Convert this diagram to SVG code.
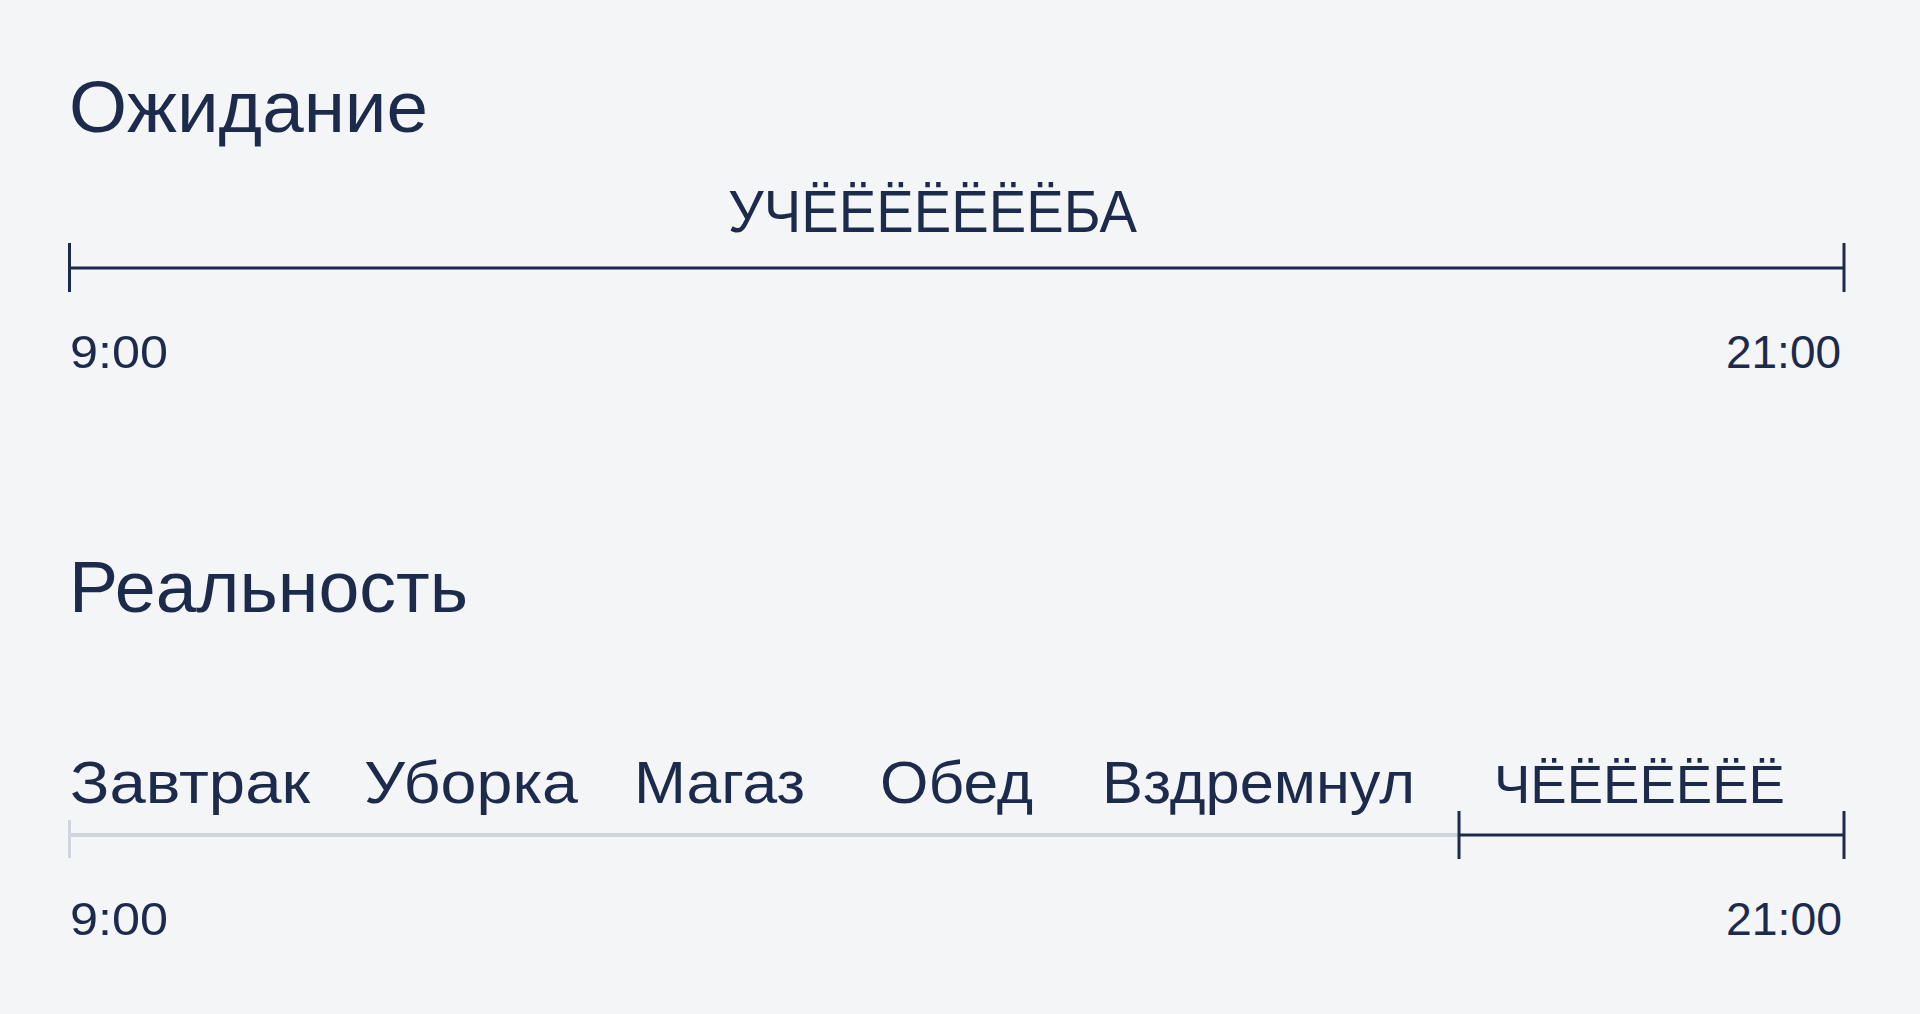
<svg xmlns="http://www.w3.org/2000/svg" width="1920" height="1014" viewBox="0 0 1920 1014">
<style>
  .t { font-family: "Liberation Sans", Arial, sans-serif; fill: #1c2a4b; }
  .title { font-size: 72px; }
  .lbl { font-size: 60px; }
  .time { font-size: 46px; }
  .dark { stroke: #1c2a4b; stroke-width: 3; fill: none; }
  .gray { stroke: #cfd5dc; stroke-width: 4; fill: none; }
  .grayTick { stroke: #cfd5dc; stroke-width: 3; fill: none; }
</style>
<rect width="1920" height="1014" fill="#f4f5f7"/>
<g id="expectation">
  <text class="t title" x="69" y="132" textLength="359" lengthAdjust="spacingAndGlyphs">Ожидание</text>
  <text class="t lbl" x="728" y="232" textLength="409" lengthAdjust="spacingAndGlyphs">УЧЁЁЁЁЁЁЁБА</text>
  <text class="t time" x="70" y="368" textLength="98" lengthAdjust="spacingAndGlyphs">9:00</text>
  <text class="t time" x="1726" y="368" textLength="115" lengthAdjust="spacingAndGlyphs">21:00</text>
</g>
<g id="reality">
  <text class="t title" x="69" y="612" textLength="399" lengthAdjust="spacingAndGlyphs">Реальность</text>
  <text class="t lbl" x="70" y="803" textLength="240" lengthAdjust="spacingAndGlyphs">Завтрак</text>
  <text class="t lbl" x="364" y="803" textLength="214" lengthAdjust="spacingAndGlyphs">Уборка</text>
  <text class="t lbl" x="634" y="803" textLength="171" lengthAdjust="spacingAndGlyphs">Магаз</text>
  <text class="t lbl" x="880" y="803" textLength="153" lengthAdjust="spacingAndGlyphs">Обед</text>
  <text class="t lbl" x="1102" y="803" textLength="313" lengthAdjust="spacingAndGlyphs">Вздремнул</text>
  <text class="t" font-size="54" x="1494" y="803" textLength="291" lengthAdjust="spacingAndGlyphs">ЧЁЁЁЁЁЁЁ</text>
  <text class="t time" x="70" y="935" textLength="98" lengthAdjust="spacingAndGlyphs">9:00</text>
  <text class="t time" x="1726" y="935" textLength="116" lengthAdjust="spacingAndGlyphs">21:00</text>
</g>
<g id="connectors">
  <line class="dark" x1="69.5" y1="268" x2="1844" y2="268"/>
  <line class="dark" x1="69.5" y1="243" x2="69.5" y2="292"/>
  <line class="dark" x1="1844" y1="243" x2="1844" y2="292"/>
  <line class="gray" x1="69" y1="835" x2="1459" y2="835"/>
  <line class="grayTick" x1="69.5" y1="820" x2="69.5" y2="858"/>
  <line class="dark" x1="1459" y1="835" x2="1844" y2="835"/>
  <line class="dark" x1="1459" y1="811" x2="1459" y2="859"/>
  <line class="dark" x1="1844" y1="811" x2="1844" y2="859"/>
</g>
</svg>
